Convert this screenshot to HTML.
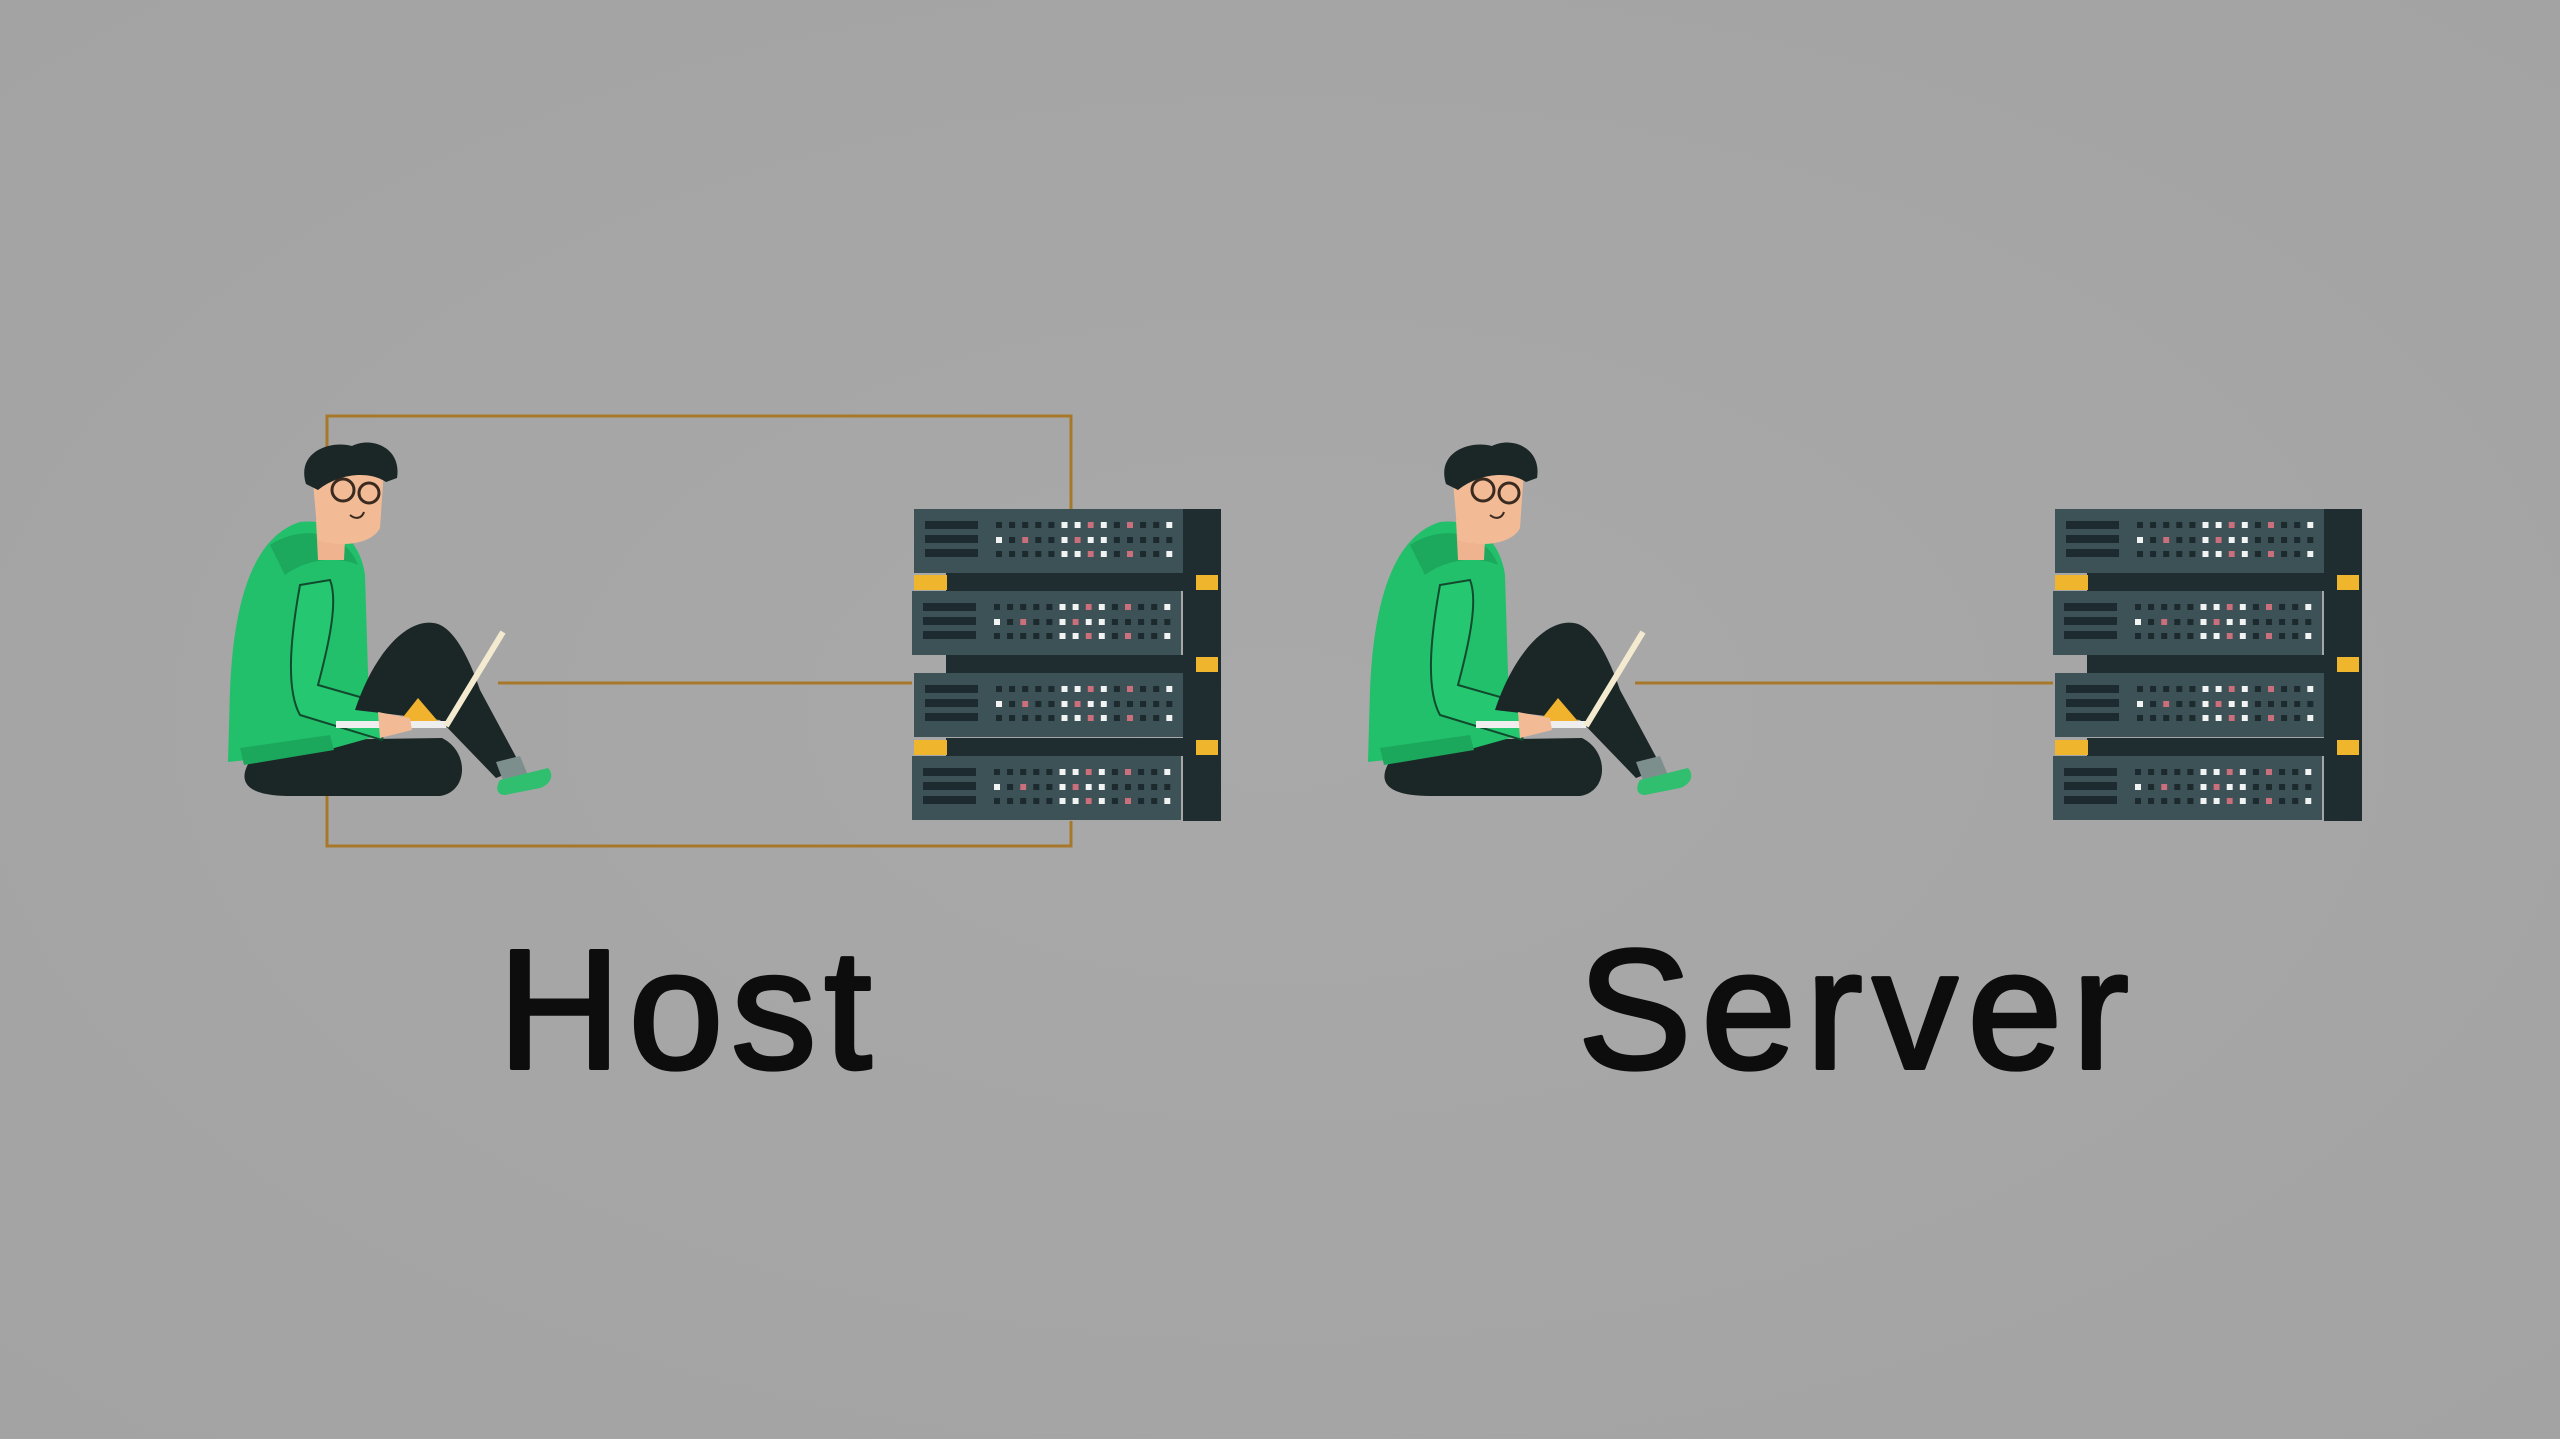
<!DOCTYPE html>
<html><head><meta charset="utf-8"><style>
html,body{margin:0;padding:0;background:#a6a6a6;}
svg{display:block;}
</style></head><body>
<svg width="2560" height="1439" viewBox="0 0 2560 1439" xmlns="http://www.w3.org/2000/svg">
<defs>
<radialGradient id="bg" cx="50%" cy="50%" r="70%">
<stop offset="0" stop-color="#a9a9a9"/><stop offset="1" stop-color="#a3a3a3"/>
</radialGradient>
<path id="row" d="M0,0h6v6h-6zm13.1,0h6v6h-6zm13.1,0h6v6h-6zm13.1,0h6v6h-6zm13.1,0h6v6h-6zm13.1,0h6v6h-6zm13.1,0h6v6h-6zm13.1,0h6v6h-6zm13.1,0h6v6h-6zm13.1,0h6v6h-6zm13.1,0h6v6h-6zm13.1,0h6v6h-6zm13.1,0h6v6h-6zm13.1,0h6v6h-6z" fill="#1c292d"/>
<g id="unit">
<rect x="0" y="0" width="269" height="64" fill="#3c5256"/>
<rect x="11" y="12" width="53" height="8" fill="#1d2b30"/>
<rect x="11" y="26" width="53" height="8" fill="#1d2b30"/>
<rect x="11" y="40" width="53" height="8" fill="#1d2b30"/>
<use href="#row" x="82" y="13"/>
<use href="#row" x="82" y="28"/>
<use href="#row" x="82" y="42"/>
<g fill="#f2f4f4">
<rect x="147.5" y="13" width="6" height="6"/><rect x="160.6" y="13" width="6" height="6"/><rect x="186.8" y="13" width="6" height="6"/><rect x="252.3" y="13" width="6" height="6"/>
<rect x="82" y="28" width="6" height="6"/><rect x="147.5" y="28" width="6" height="6"/><rect x="173.7" y="28" width="6" height="6"/><rect x="186.8" y="28" width="6" height="6"/>
<rect x="147.5" y="42" width="6" height="6"/><rect x="160.6" y="42" width="6" height="6"/><rect x="186.8" y="42" width="6" height="6"/><rect x="252.3" y="42" width="6" height="6"/>
</g>
<g fill="#c9707c">
<rect x="173.7" y="13" width="6" height="6"/><rect x="213" y="13" width="6" height="6"/>
<rect x="108.2" y="28" width="6" height="6"/><rect x="160.6" y="28" width="6" height="6"/>
<rect x="173.7" y="42" width="6" height="6"/><rect x="213" y="42" width="6" height="6"/>
</g>
</g>
<g id="server">
<rect x="1183" y="509" width="38" height="312" fill="#1f2c30"/>
<rect x="946" y="573" width="275" height="18" fill="#1f2c30"/>
<rect x="946" y="655" width="275" height="18" fill="#1f2c30"/>
<rect x="946" y="738" width="275" height="18" fill="#1f2c30"/>
<rect x="914" y="575" width="33" height="15" fill="#efb52c"/>
<rect x="1196" y="575" width="22" height="15" fill="#efb52c"/>
<rect x="1196" y="657" width="22" height="15" fill="#efb52c"/>
<rect x="914" y="740" width="33" height="15" fill="#efb52c"/>
<rect x="1196" y="740" width="22" height="15" fill="#efb52c"/>
<use href="#unit" x="914" y="509"/>
<use href="#unit" x="912" y="591"/>
<use href="#unit" x="914" y="673"/>
<use href="#unit" x="912" y="756"/>
</g>
<g id="person">
<path d="M252,758 C236,780 244,796 290,796 L440,796 C468,792 470,752 442,738 L300,740 Z" fill="#1b2626"/>
<path d="M300,522 C258,535 234,590 230,690 L228,762 L320,752 L370,738 L365,575 C360,540 335,518 300,522 Z" fill="#22c06b"/>
<path d="M240,748 L330,735 L334,750 L244,765 Z" fill="#1ba85c"/>
<path d="M270,545 C300,525 345,530 358,565 C335,555 305,560 285,575 Z" fill="#1ca85d"/>
<path d="M300,585 C290,640 286,690 300,715 L382,740 L388,705 L318,685 C330,640 338,600 330,580 Z" fill="#25c871" stroke="#124a2e" stroke-width="2"/>
<path d="M355,710 C375,650 410,615 438,624 C455,630 470,660 480,690 L522,768 L496,778 L440,720 Z" fill="#1b2626"/>
<path d="M496,762 L520,756 L530,780 L505,786 Z" fill="#7d8f8d"/>
<path d="M500,780 L548,768 C555,775 550,785 540,788 L505,795 C497,795 495,788 500,780 Z" fill="#2fbf6f"/>
<path d="M316,520 L346,520 L344,560 L318,560 Z" fill="#efb48f"/>
<path d="M312,470 L384,470 L380,528 C372,544 342,548 318,540 Z" fill="#f2bb96"/>
<path d="M306,484 C296,452 330,440 352,446 C372,436 402,448 397,478 L386,482 C368,470 338,474 318,490 Z" fill="#1b2626"/>
<circle cx="343" cy="490" r="11" fill="none" stroke="#3a2a20" stroke-width="3"/>
<circle cx="369" cy="493" r="10" fill="none" stroke="#3a2a20" stroke-width="3"/>
<path d="M350,515 C356,520 362,518 364,512" fill="none" stroke="#3a2a20" stroke-width="2"/>
<path d="M418,698 L442,726 L396,726 Z" fill="#f1b22e"/>
<rect x="336" y="721" width="110" height="7" fill="#eeeeee"/>
<line x1="446" y1="726" x2="503" y2="632" stroke="#f3ead0" stroke-width="6"/>
<path d="M378,712 L410,718 L412,730 L380,738 Z" fill="#f2bb96"/>
</g>
</defs>
<rect width="2560" height="1439" fill="url(#bg)"/>
<path d="M327,846 L327,416 L1071,416 L1071,509" fill="none" stroke="#a8782a" stroke-width="3"/>
<path d="M327,796 L327,846 L1071,846 L1071,821" fill="none" stroke="#a8782a" stroke-width="3"/>
<line x1="498" y1="683" x2="912" y2="683" stroke="#a8782a" stroke-width="3"/>
<line x1="1635" y1="683" x2="2053" y2="683" stroke="#a8782a" stroke-width="3"/>
<use href="#person"/>
<use href="#server"/>
<use href="#person" x="1140"/>
<use href="#server" x="1141"/>
<g font-family="Liberation Sans, sans-serif" font-size="170" fill="#0d0d0d" stroke="#0d0d0d" stroke-width="4" stroke-linejoin="round">
<text x="498" y="1068" letter-spacing="8">Host</text>
<text x="1578" y="1068" letter-spacing="10">Server</text>
</g>
</svg>
</body></html>
